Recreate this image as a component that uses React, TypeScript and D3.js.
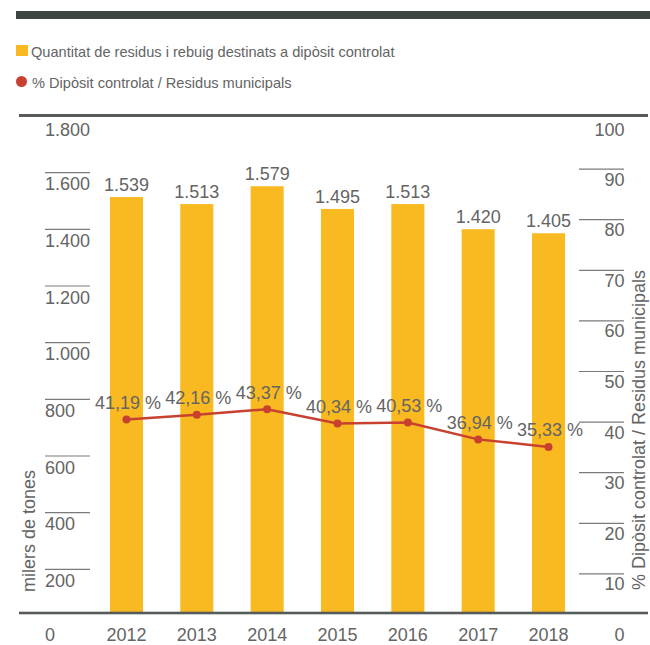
import { useEffect, useRef } from 'react'
import * as d3 from 'd3'

const years = ['2012', '2013', '2014', '2015', '2016', '2017', '2018']
const tones = [1539, 1513, 1579, 1495, 1513, 1420, 1405]
const percent = [41.19, 42.16, 43.37, 40.34, 40.53, 36.94, 35.33]
const leftTicks = [0, 200, 400, 600, 800, 1000, 1200, 1400, 1600, 1800]
const rightTicks = [0, 10, 20, 30, 40, 50, 60, 70, 80, 90, 100]
const legendLabels = [
  'Quantitat de residus i rebuig destinats a dipòsit controlat',
  '% Dipòsit controlat / Residus municipals',
]

const FONT = '"Liberation Sans", Arial, sans-serif'
const TEXT = '#646464'
const BAR = '#F9BA21'
const RED = '#C8402F'

export default function App() {
  const ref = useRef<SVGSVGElement>(null)

  useEffect(() => {
    if (!ref.current) return
    const svg = d3.select(ref.current)
    svg.selectAll('*').remove()

    const width = 650
    const height = 645
    svg.attr('width', width).attr('height', height)

    // scales
    const x = d3.scaleBand<string>().domain(years).range([91.3, 583.7]).paddingInner(0.53).paddingOuter(0.265)
    const yBar = d3.scaleLinear().domain([0, 1800]).range([613, 126.5])
    const yPct = d3.scaleLinear().domain([0, 100]).range([613, 143])
    const yLeftAxis = d3.scaleLinear().domain([0, 1800]).range([626, 116])
    const yRightAxis = d3.scaleLinear().domain([0, 100]).range([624.5, 118.5])

    const fmtThousands = (v: number) => d3.format(',')(v).replace(/,/g, '.')
    const fmtPct = (v: number) => d3.format('.2f')(v).replace('.', ',') + ' %'

    // top dark band
    svg.append('rect').attr('x', 16).attr('y', 11).attr('width', 634).attr('height', 8).attr('fill', '#3d4543')

    // legend
    const lg = svg.append('g').style('font-family', FONT).style('font-size', '14.6px').attr('fill', TEXT)
    lg.append('rect').attr('x', 16).attr('y', 45).attr('width', 12).attr('height', 11).attr('fill', BAR)
    lg.append('text').attr('x', 31).attr('y', 57).text(legendLabels[0])
    lg.append('circle').attr('cx', 21.5).attr('cy', 81.5).attr('r', 5.5).attr('fill', RED)
    lg.append('text').attr('x', 32).attr('y', 87.5).text(legendLabels[1])

    // frame line under legend
    svg.append('rect').attr('x', 19).attr('y', 114).attr('width', 629).attr('height', 3).attr('fill', '#565b5a')

    // bars
    svg.append('g')
      .selectAll('rect')
      .data(tones)
      .join('rect')
      .attr('x', (_, i) => x(years[i])!)
      .attr('y', d => yBar(d))
      .attr('width', x.bandwidth())
      .attr('height', d => yBar(0) - yBar(d))
      .attr('fill', BAR)

    // bar labels
    svg.append('g')
      .style('font-family', FONT).style('font-size', '18px').attr('fill', TEXT)
      .selectAll('text')
      .data(tones)
      .join('text')
      .attr('x', (_, i) => x(years[i])! + x.bandwidth() / 2)
      .attr('y', d => yBar(d) - 6)
      .attr('text-anchor', 'middle')
      .text(d => fmtThousands(d))

    // baseline
    svg.append('rect').attr('x', 19).attr('y', 611.7).attr('width', 629).attr('height', 2.6).attr('fill', '#565b5a')

    // left axis
    const la = svg.append('g').style('font-family', FONT).style('font-size', '18px').attr('fill', TEXT)
    leftTicks.forEach(t => {
      const yy = yLeftAxis(t)
      if (t > 0 && t < 1800) {
        la.append('line').attr('x1', 45).attr('x2', 90).attr('y1', yy).attr('y2', yy)
          .attr('stroke', '#7a7a7a').attr('stroke-width', 1.2)
      }
      la.append('text').attr('x', 45).attr('y', t === 0 ? 641 : yy + (t === 1800 ? 20 : 17.5)).text(fmtThousands(t))
    })
    la.append('text')
      .attr('transform', 'translate(35,531) rotate(-90)')
      .attr('text-anchor', 'middle')
      .text('milers de tones')

    // right axis
    const ra = svg.append('g').style('font-family', FONT).style('font-size', '18px').attr('fill', TEXT)
    rightTicks.forEach(t => {
      const yy = yRightAxis(t)
      if (t > 0 && t < 100) {
        ra.append('line').attr('x1', 579).attr('x2', 624).attr('y1', yy).attr('y2', yy)
          .attr('stroke', '#7a7a7a').attr('stroke-width', 1.2)
      }
      ra.append('text').attr('x', 624.5).attr('y', t === 0 ? 641 : yy + (t === 100 ? 17.5 : 16.5))
        .attr('text-anchor', 'end').text(String(t))
    })
    ra.append('text')
      .attr('transform', 'translate(645,430) rotate(-90)')
      .attr('text-anchor', 'middle')
      .text(legendLabels[1])

    // x labels
    svg.append('g')
      .style('font-family', FONT).style('font-size', '18px').attr('fill', TEXT)
      .selectAll('text')
      .data(years)
      .join('text')
      .attr('x', d => x(d)! + x.bandwidth() / 2)
      .attr('y', 641)
      .attr('text-anchor', 'middle')
      .text(d => d)

    // percentage line
    const cx = (i: number) => x(years[i])! + x.bandwidth() / 2
    const line = d3.line<number>().x((_, i) => cx(i)).y(d => yPct(d))
    svg.append('path')
      .datum(percent)
      .attr('d', line)
      .attr('fill', 'none')
      .attr('stroke', RED)
      .attr('stroke-width', 2.5)

    svg.append('g')
      .selectAll('circle')
      .data(percent)
      .join('circle')
      .attr('cx', (_, i) => cx(i))
      .attr('cy', d => yPct(d))
      .attr('r', 4)
      .attr('fill', RED)

    svg.append('g')
      .style('font-family', FONT).style('font-size', '18px').attr('fill', TEXT)
      .selectAll('text')
      .data(percent)
      .join('text')
      .attr('x', (_, i) => cx(i) + 1.5)
      .attr('y', d => yPct(d) - 10.5)
      .attr('text-anchor', 'middle')
      .text(d => fmtPct(d))
  }, [])

  return (
    <div style={{ position: 'absolute', left: 0, top: 0 }}>
      <svg ref={ref} style={{ display: 'block' }}></svg>
    </div>
  )
}
